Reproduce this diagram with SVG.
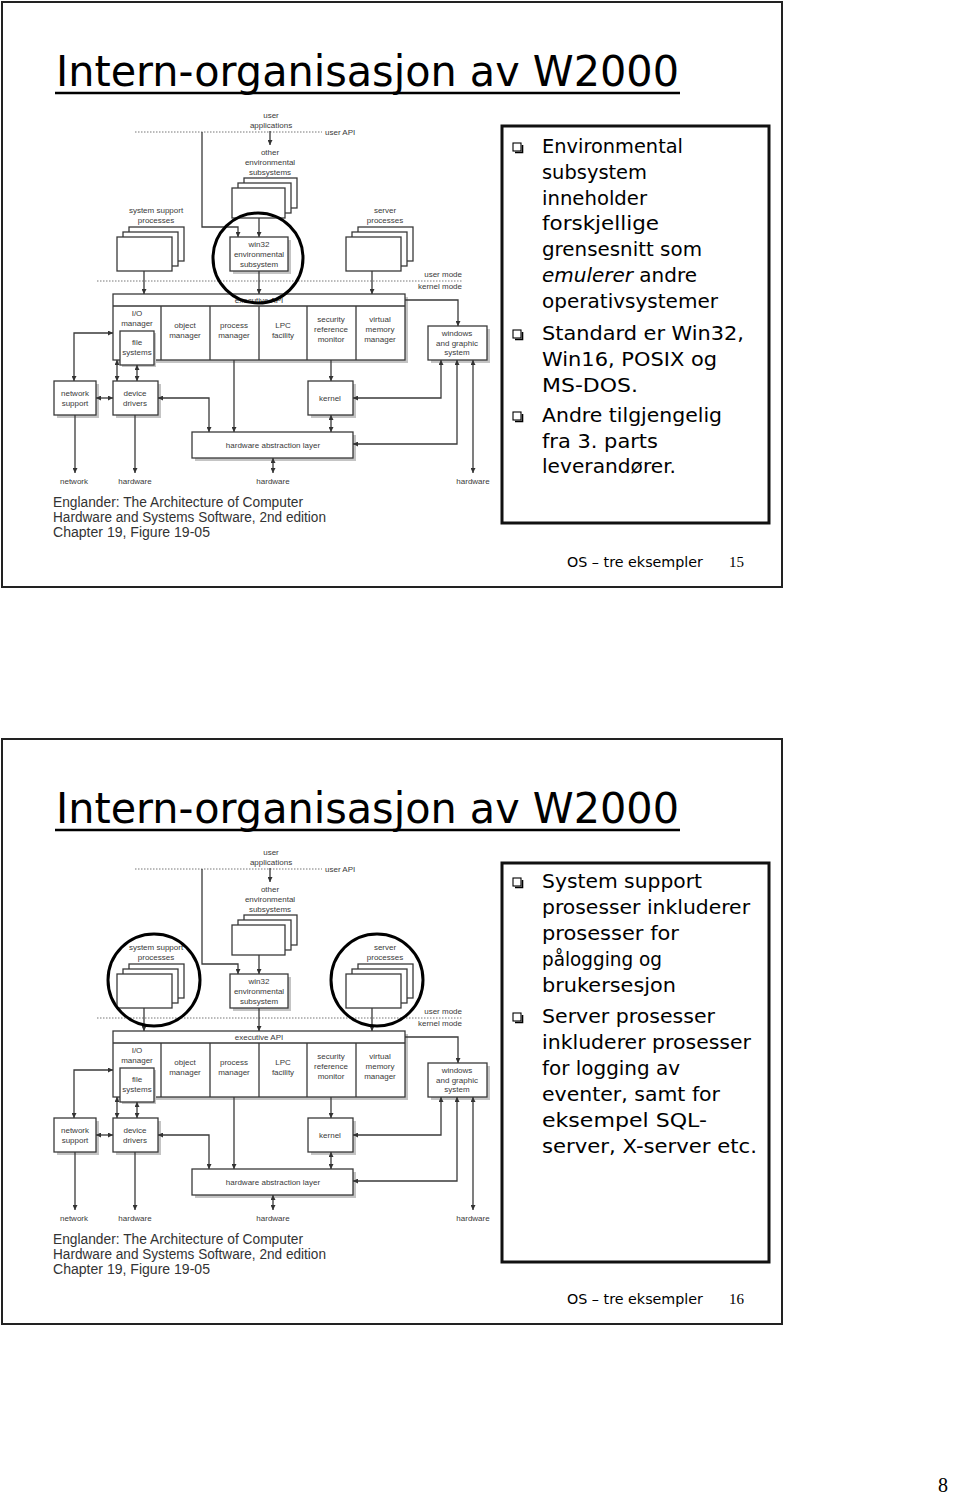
<svg xmlns="http://www.w3.org/2000/svg" width="960" height="1498" viewBox="0 0 960 1498">
<defs>
<style>
.frame{fill:#fff;stroke:#222;stroke-width:2}
.tbox{fill:#fff;stroke:#111;stroke-width:3}
.ttl{font-family:"DejaVu Sans",sans-serif;font-size:42px;fill:#000}
.ul{stroke:#000;stroke-width:2.5}
.bt{font-family:"DejaVu Sans",sans-serif;font-size:19px;fill:#000}
.ft{font-family:"DejaVu Sans",sans-serif;font-size:14px;fill:#000}
.pg{font-family:"Liberation Serif",serif;font-size:15px;fill:#000}
.cite{font-family:"Liberation Sans",sans-serif;font-size:14px;fill:#333}
.d{font-family:"Liberation Sans",sans-serif;font-size:8px;fill:#3a3a3a;text-anchor:middle}
.ds{font-family:"Liberation Sans",sans-serif;font-size:8px;fill:#3a3a3a}
.box{fill:#fff;stroke:#3a3a3a;stroke-width:1.3}
.sh{fill:#c4c4c4}
.ln{fill:none;stroke:#3a3a3a;stroke-width:1.3}
.dot{fill:none;stroke:#777;stroke-width:1;stroke-dasharray:1.5 1.5}
.circ{fill:none;stroke:#000;stroke-width:3}
.bul{fill:#fff;stroke:#000;stroke-width:1.1}
.bsh{fill:none;stroke:#000;stroke-width:1.6}
</style>
<marker id="a" viewBox="0 0 6 6" refX="6" refY="3" markerWidth="5" markerHeight="5" markerUnits="userSpaceOnUse" orient="auto-start-reverse">
<path d="M0,0 L6,3 L0,6 z" fill="#333"/>
</marker>
</defs>
<rect width="960" height="1498" fill="#fff"/>

<!-- ============ SLIDE 1 ============ -->
<g id="slide1">
<rect class="frame" x="2" y="2" width="780" height="585"/>
<text class="ttl" x="56" y="86" textLength="623" lengthAdjust="spacingAndGlyphs">Intern-organisasjon av W2000</text>
<line class="ul" x1="55" y1="93" x2="680" y2="93"/>

<g id="s1-diagram">
<g id="s1-userapps"><text class="d" x="271" y="118">user</text><text class="d" x="271" y="128">applications</text></g>
<g id="s1-userapi"><path class="dot" d="M135,132 H322"/><text class="ds" x="325" y="135">user API</text></g>
<g id="s1-modes"><path class="dot" d="M97,281 H462"/><text class="ds" x="462" y="277" text-anchor="end">user mode</text><text class="ds" x="462" y="289" text-anchor="end">kernel mode</text></g>
<g id="s1-otherenv">
<text class="d" x="270" y="155">other</text><text class="d" x="270" y="165">environmental</text><text class="d" x="270" y="175">subsystems</text>
<rect class="box" x="244" y="178" width="53" height="30"/><rect class="box" x="238" y="183" width="53" height="30"/><rect class="box" x="232" y="188" width="53" height="30"/>
</g>
<g id="s1-syssupport">
<text class="d" x="156" y="213">system support</text><text class="d" x="156" y="223">processes</text>
<rect class="box" x="129" y="227" width="55" height="34"/><rect class="box" x="123" y="232" width="55" height="34"/><rect class="box" x="117" y="237" width="55" height="34"/>
</g>
<g id="s1-server">
<text class="d" x="385" y="213">server</text><text class="d" x="385" y="223">processes</text>
<rect class="box" x="358" y="227" width="55" height="34"/><rect class="box" x="352" y="232" width="55" height="34"/><rect class="box" x="346" y="237" width="55" height="34"/>
</g>
<g id="s1-win32">
<rect class="sh" x="233" y="240" width="58" height="34"/><rect class="box" x="230" y="237" width="58" height="34"/>
<text class="d" x="259" y="247">win32</text><text class="d" x="259" y="257">environmental</text><text class="d" x="259" y="267">subsystem</text>
</g>
<g id="s1-executive">
<rect class="sh" x="116" y="297" width="292" height="66"/><rect class="box" x="113" y="294" width="292" height="66"/>
<path class="ln" d="M113,306 H405 M161,306 V360 M210,306 V360 M259,306 V360 M307,306 V360 M356,306 V360"/>
<text class="d" x="259" y="303">executive API</text>
<text class="d" x="137" y="316">I/O</text><text class="d" x="137" y="326">manager</text>
<text class="d" x="185" y="328">object</text><text class="d" x="185" y="338">manager</text>
<text class="d" x="234" y="328">process</text><text class="d" x="234" y="338">manager</text>
<text class="d" x="283" y="328">LPC</text><text class="d" x="283" y="338">facility</text>
<text class="d" x="331" y="322">security</text><text class="d" x="331" y="332">reference</text><text class="d" x="331" y="342">monitor</text>
<text class="d" x="380" y="322">virtual</text><text class="d" x="380" y="332">memory</text><text class="d" x="380" y="342">manager</text>
</g>
<g id="s1-filesys">
<rect class="sh" x="122" y="333" width="34" height="34"/><rect class="box" x="120" y="331" width="34" height="34"/>
<text class="d" x="137" y="345">file</text><text class="d" x="137" y="355">systems</text>
</g>
<g id="s1-windows">
<rect class="sh" x="431" y="329" width="59" height="34"/><rect class="box" x="428" y="326" width="59" height="34"/>
<text class="d" x="457" y="336">windows</text><text class="d" x="457" y="346">and graphic</text><text class="d" x="457" y="355">system</text>
</g>
<g id="s1-netsupport">
<rect class="sh" x="57" y="384" width="42" height="34"/><rect class="box" x="54" y="381" width="42" height="34"/>
<text class="d" x="75" y="396">network</text><text class="d" x="75" y="406">support</text>
</g>
<g id="s1-devdrivers">
<rect class="sh" x="116" y="384" width="45" height="34"/><rect class="box" x="113" y="381" width="45" height="34"/>
<text class="d" x="135" y="396">device</text><text class="d" x="135" y="406">drivers</text>
</g>
<g id="s1-kernel">
<rect class="sh" x="311" y="384" width="45" height="34"/><rect class="box" x="308" y="381" width="45" height="34"/>
<text class="d" x="330" y="401">kernel</text>
</g>
<g id="s1-hal">
<rect class="sh" x="195" y="435" width="161" height="26"/><rect class="box" x="192" y="432" width="161" height="26"/>
<text class="d" x="273" y="448">hardware abstraction layer</text>
</g>
<g id="s1-ends">
<text class="d" x="74" y="484">network</text><text class="d" x="135" y="484">hardware</text><text class="d" x="273" y="484">hardware</text><text class="d" x="473" y="484">hardware</text>
</g>
<g id="s1-connectors">
<path class="ln" marker-end="url(#a)" d="M270,131 V145"/>
<path class="ln" marker-end="url(#a)" d="M202,132 V227 H238 V237"/>
<path class="ln" marker-end="url(#a)" d="M259,218 V237"/>
<path class="ln" marker-end="url(#a)" d="M259,271 V294"/>
<path class="ln" marker-end="url(#a)" d="M144,271 V294"/>
<path class="ln" marker-end="url(#a)" d="M372,271 V294"/>
<path class="ln" marker-end="url(#a)" d="M405,300 H458 V326"/>
<path class="ln" marker-start="url(#a)" marker-end="url(#a)" d="M113,333 H74 V381"/>
<path class="ln" marker-start="url(#a)" marker-end="url(#a)" d="M96,398 H113"/>
<path class="ln" marker-start="url(#a)" marker-end="url(#a)" d="M117,360 V381"/>
<path class="ln" marker-start="url(#a)" marker-end="url(#a)" d="M137,365 V381"/>
<path class="ln" marker-start="url(#a)" marker-end="url(#a)" d="M158,398 H209 V432"/>
<path class="ln" marker-end="url(#a)" d="M234,360 V432"/>
<path class="ln" marker-end="url(#a)" d="M331,360 V381"/>
<path class="ln" marker-start="url(#a)" marker-end="url(#a)" d="M331,415 V432"/>
<path class="ln" marker-start="url(#a)" marker-end="url(#a)" d="M441,360 V398 H353"/>
<path class="ln" marker-start="url(#a)" marker-end="url(#a)" d="M457,360 V444 H353"/>
<path class="ln" marker-start="url(#a)" marker-end="url(#a)" d="M473,360 V473"/>
<path class="ln" marker-start="url(#a)" marker-end="url(#a)" d="M273,458 V473"/>
<path class="ln" marker-end="url(#a)" d="M75,415 V473"/>
<path class="ln" marker-end="url(#a)" d="M135,415 V473"/>
</g>
<ellipse id="s1-circle" class="circ" cx="258" cy="258" rx="45" ry="45"/>
</g>

<g id="s1-cite">
<text class="cite" x="53" y="507" textLength="250" lengthAdjust="spacingAndGlyphs">Englander: The Architecture of Computer</text>
<text class="cite" x="53" y="522" textLength="273" lengthAdjust="spacingAndGlyphs">Hardware and Systems Software, 2nd edition</text>
<text class="cite" x="53" y="537" textLength="157" lengthAdjust="spacingAndGlyphs">Chapter 19, Figure 19-05</text>
</g>

<g id="s1-textbox">
<rect class="tbox" x="502" y="126" width="267" height="397"/>
<rect class="bul" x="513" y="143" width="8" height="8"/><path class="bsh" d="M515,152.5 H522.5 V145"/>
<rect class="bul" x="513" y="330" width="8" height="8"/><path class="bsh" d="M515,339.5 H522.5 V332"/>
<rect class="bul" x="513" y="412" width="8" height="8"/><path class="bsh" d="M515,421.5 H522.5 V414"/>
<text class="bt" x="542" y="153" textLength="141" lengthAdjust="spacingAndGlyphs">Environmental</text>
<text class="bt" x="542" y="179" textLength="105" lengthAdjust="spacingAndGlyphs">subsystem</text>
<text class="bt" x="542" y="205" textLength="105" lengthAdjust="spacingAndGlyphs">inneholder</text>
<text class="bt" x="542" y="230" textLength="117" lengthAdjust="spacingAndGlyphs">forskjellige</text>
<text class="bt" x="542" y="256" textLength="160" lengthAdjust="spacingAndGlyphs">grensesnitt som</text>
<text class="bt" x="542" y="282" textLength="155" lengthAdjust="spacingAndGlyphs"><tspan font-style="italic">emulerer</tspan> andre</text>
<text class="bt" x="542" y="308" textLength="176" lengthAdjust="spacingAndGlyphs">operativsystemer</text>
<text class="bt" x="542" y="340" textLength="202" lengthAdjust="spacingAndGlyphs">Standard er Win32,</text>
<text class="bt" x="542" y="366" textLength="175" lengthAdjust="spacingAndGlyphs">Win16, POSIX og</text>
<text class="bt" x="542" y="392" textLength="96" lengthAdjust="spacingAndGlyphs">MS-DOS.</text>
<text class="bt" x="542" y="422" textLength="180" lengthAdjust="spacingAndGlyphs">Andre tilgjengelig</text>
<text class="bt" x="542" y="448" textLength="116" lengthAdjust="spacingAndGlyphs">fra 3. parts</text>
<text class="bt" x="542" y="473" textLength="134" lengthAdjust="spacingAndGlyphs">leverandører.</text>
</g>

<g id="s1-footer">
<text class="ft" x="567" y="567" textLength="136" lengthAdjust="spacingAndGlyphs">OS – tre eksempler</text>
<text class="pg" x="729" y="567">15</text>
</g>
</g>

<!-- ============ SLIDE 2 ============ -->
<g id="slide2">
<rect class="frame" x="2" y="739" width="780" height="585"/>
<text class="ttl" x="56" y="823" textLength="623" lengthAdjust="spacingAndGlyphs">Intern-organisasjon av W2000</text>
<line class="ul" x1="55" y1="830" x2="680" y2="830"/>

<g id="s2-diagram" transform="translate(0,737)">
<g id="s2-userapps"><text class="d" x="271" y="118">user</text><text class="d" x="271" y="128">applications</text></g>
<g id="s2-userapi"><path class="dot" d="M135,132 H322"/><text class="ds" x="325" y="135">user API</text></g>
<g id="s2-modes"><path class="dot" d="M97,281 H462"/><text class="ds" x="462" y="277" text-anchor="end">user mode</text><text class="ds" x="462" y="289" text-anchor="end">kernel mode</text></g>
<g id="s2-otherenv">
<text class="d" x="270" y="155">other</text><text class="d" x="270" y="165">environmental</text><text class="d" x="270" y="175">subsystems</text>
<rect class="box" x="244" y="178" width="53" height="30"/><rect class="box" x="238" y="183" width="53" height="30"/><rect class="box" x="232" y="188" width="53" height="30"/>
</g>
<g id="s2-syssupport">
<text class="d" x="156" y="213">system support</text><text class="d" x="156" y="223">processes</text>
<rect class="box" x="129" y="227" width="55" height="34"/><rect class="box" x="123" y="232" width="55" height="34"/><rect class="box" x="117" y="237" width="55" height="34"/>
</g>
<g id="s2-server">
<text class="d" x="385" y="213">server</text><text class="d" x="385" y="223">processes</text>
<rect class="box" x="358" y="227" width="55" height="34"/><rect class="box" x="352" y="232" width="55" height="34"/><rect class="box" x="346" y="237" width="55" height="34"/>
</g>
<g id="s2-win32">
<rect class="sh" x="233" y="240" width="58" height="34"/><rect class="box" x="230" y="237" width="58" height="34"/>
<text class="d" x="259" y="247">win32</text><text class="d" x="259" y="257">environmental</text><text class="d" x="259" y="267">subsystem</text>
</g>
<g id="s2-executive">
<rect class="sh" x="116" y="297" width="292" height="66"/><rect class="box" x="113" y="294" width="292" height="66"/>
<path class="ln" d="M113,306 H405 M161,306 V360 M210,306 V360 M259,306 V360 M307,306 V360 M356,306 V360"/>
<text class="d" x="259" y="303">executive API</text>
<text class="d" x="137" y="316">I/O</text><text class="d" x="137" y="326">manager</text>
<text class="d" x="185" y="328">object</text><text class="d" x="185" y="338">manager</text>
<text class="d" x="234" y="328">process</text><text class="d" x="234" y="338">manager</text>
<text class="d" x="283" y="328">LPC</text><text class="d" x="283" y="338">facility</text>
<text class="d" x="331" y="322">security</text><text class="d" x="331" y="332">reference</text><text class="d" x="331" y="342">monitor</text>
<text class="d" x="380" y="322">virtual</text><text class="d" x="380" y="332">memory</text><text class="d" x="380" y="342">manager</text>
</g>
<g id="s2-filesys">
<rect class="sh" x="122" y="333" width="34" height="34"/><rect class="box" x="120" y="331" width="34" height="34"/>
<text class="d" x="137" y="345">file</text><text class="d" x="137" y="355">systems</text>
</g>
<g id="s2-windows">
<rect class="sh" x="431" y="329" width="59" height="34"/><rect class="box" x="428" y="326" width="59" height="34"/>
<text class="d" x="457" y="336">windows</text><text class="d" x="457" y="346">and graphic</text><text class="d" x="457" y="355">system</text>
</g>
<g id="s2-netsupport">
<rect class="sh" x="57" y="384" width="42" height="34"/><rect class="box" x="54" y="381" width="42" height="34"/>
<text class="d" x="75" y="396">network</text><text class="d" x="75" y="406">support</text>
</g>
<g id="s2-devdrivers">
<rect class="sh" x="116" y="384" width="45" height="34"/><rect class="box" x="113" y="381" width="45" height="34"/>
<text class="d" x="135" y="396">device</text><text class="d" x="135" y="406">drivers</text>
</g>
<g id="s2-kernel">
<rect class="sh" x="311" y="384" width="45" height="34"/><rect class="box" x="308" y="381" width="45" height="34"/>
<text class="d" x="330" y="401">kernel</text>
</g>
<g id="s2-hal">
<rect class="sh" x="195" y="435" width="161" height="26"/><rect class="box" x="192" y="432" width="161" height="26"/>
<text class="d" x="273" y="448">hardware abstraction layer</text>
</g>
<g id="s2-ends">
<text class="d" x="74" y="484">network</text><text class="d" x="135" y="484">hardware</text><text class="d" x="273" y="484">hardware</text><text class="d" x="473" y="484">hardware</text>
</g>
<g id="s2-connectors">
<path class="ln" marker-end="url(#a)" d="M270,131 V145"/>
<path class="ln" marker-end="url(#a)" d="M202,132 V227 H238 V237"/>
<path class="ln" marker-end="url(#a)" d="M259,218 V237"/>
<path class="ln" marker-end="url(#a)" d="M259,271 V294"/>
<path class="ln" marker-end="url(#a)" d="M144,271 V294"/>
<path class="ln" marker-end="url(#a)" d="M372,271 V294"/>
<path class="ln" marker-end="url(#a)" d="M405,300 H458 V326"/>
<path class="ln" marker-start="url(#a)" marker-end="url(#a)" d="M113,333 H74 V381"/>
<path class="ln" marker-start="url(#a)" marker-end="url(#a)" d="M96,398 H113"/>
<path class="ln" marker-start="url(#a)" marker-end="url(#a)" d="M117,360 V381"/>
<path class="ln" marker-start="url(#a)" marker-end="url(#a)" d="M137,365 V381"/>
<path class="ln" marker-start="url(#a)" marker-end="url(#a)" d="M158,398 H209 V432"/>
<path class="ln" marker-end="url(#a)" d="M234,360 V432"/>
<path class="ln" marker-end="url(#a)" d="M331,360 V381"/>
<path class="ln" marker-start="url(#a)" marker-end="url(#a)" d="M331,415 V432"/>
<path class="ln" marker-start="url(#a)" marker-end="url(#a)" d="M441,360 V398 H353"/>
<path class="ln" marker-start="url(#a)" marker-end="url(#a)" d="M457,360 V444 H353"/>
<path class="ln" marker-start="url(#a)" marker-end="url(#a)" d="M473,360 V473"/>
<path class="ln" marker-start="url(#a)" marker-end="url(#a)" d="M273,458 V473"/>
<path class="ln" marker-end="url(#a)" d="M75,415 V473"/>
<path class="ln" marker-end="url(#a)" d="M135,415 V473"/>
</g>
<ellipse id="s2-circle1" class="circ" cx="154" cy="243" rx="46" ry="46"/>
<ellipse id="s2-circle2" class="circ" cx="377" cy="243" rx="46" ry="46"/>
</g>

<g id="s2-cite">
<text class="cite" x="53" y="1244" textLength="250" lengthAdjust="spacingAndGlyphs">Englander: The Architecture of Computer</text>
<text class="cite" x="53" y="1259" textLength="273" lengthAdjust="spacingAndGlyphs">Hardware and Systems Software, 2nd edition</text>
<text class="cite" x="53" y="1274" textLength="157" lengthAdjust="spacingAndGlyphs">Chapter 19, Figure 19-05</text>
</g>

<g id="s2-textbox">
<rect class="tbox" x="502" y="863" width="267" height="399"/>
<rect class="bul" x="513" y="878" width="8" height="8"/><path class="bsh" d="M515,887.5 H522.5 V880"/>
<rect class="bul" x="513" y="1013" width="8" height="8"/><path class="bsh" d="M515,1022.5 H522.5 V1015"/>
<text class="bt" x="542" y="888" textLength="160" lengthAdjust="spacingAndGlyphs">System support</text>
<text class="bt" x="542" y="914" textLength="208" lengthAdjust="spacingAndGlyphs">prosesser inkluderer</text>
<text class="bt" x="542" y="940" textLength="137" lengthAdjust="spacingAndGlyphs">prosesser for</text>
<text class="bt" x="542" y="966" textLength="120" lengthAdjust="spacingAndGlyphs">pålogging og</text>
<text class="bt" x="542" y="992" textLength="134" lengthAdjust="spacingAndGlyphs">brukersesjon</text>
<text class="bt" x="542" y="1023" textLength="173" lengthAdjust="spacingAndGlyphs">Server prosesser</text>
<text class="bt" x="542" y="1049" textLength="209" lengthAdjust="spacingAndGlyphs">inkluderer prosesser</text>
<text class="bt" x="542" y="1075" textLength="138" lengthAdjust="spacingAndGlyphs">for logging av</text>
<text class="bt" x="542" y="1101" textLength="178" lengthAdjust="spacingAndGlyphs">eventer, samt for</text>
<text class="bt" x="542" y="1127" textLength="165" lengthAdjust="spacingAndGlyphs">eksempel SQL-</text>
<text class="bt" x="542" y="1153" textLength="215" lengthAdjust="spacingAndGlyphs">server, X-server etc.</text>
</g>

<g id="s2-footer">
<text class="ft" x="567" y="1304" textLength="136" lengthAdjust="spacingAndGlyphs">OS – tre eksempler</text>
<text class="pg" x="729" y="1304">16</text>
</g>
</g>

<text id="pagenum" x="938" y="1492" style="font-family:'Liberation Serif',serif;font-size:20px;fill:#000">8</text>
</svg>
